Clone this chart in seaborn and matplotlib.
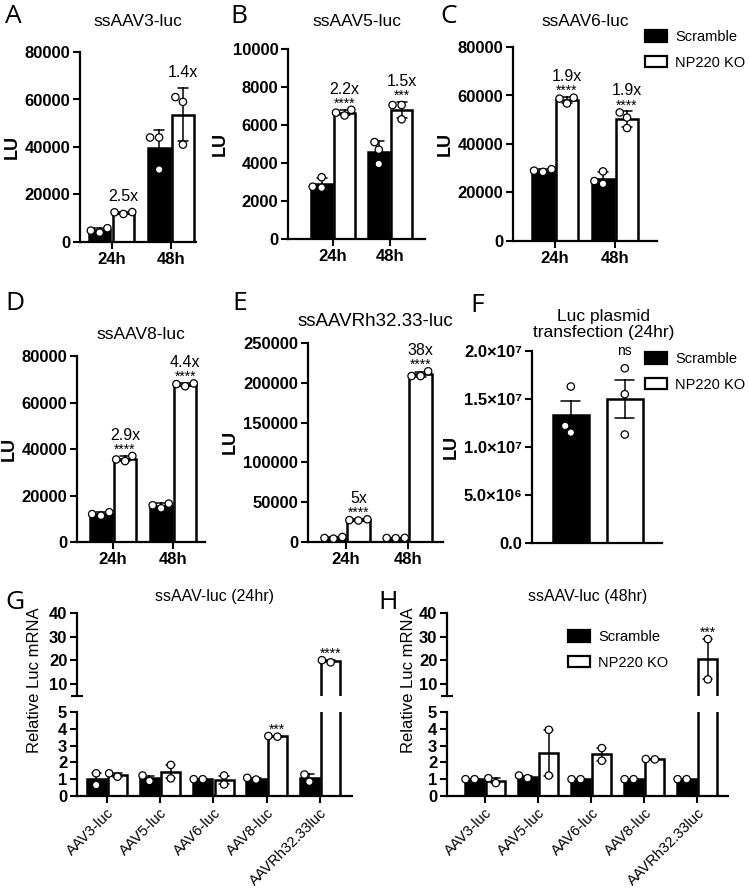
import numpy as np
import pandas as pd
import matplotlib.pyplot as plt
import seaborn as sns
from matplotlib.patches import Patch

sns.set_theme(style='ticks')
plt.rcParams['font.family'] = ['Liberation Sans', 'DejaVu Sans']
plt.rcParams.update({'text.color': 'black', 'axes.edgecolor': 'black', 'axes.labelcolor': 'black',
                     'xtick.color': 'black', 'ytick.color': 'black'})

groups = ['Scramble', 'NP220 KO']
times = ['24h', '48h']
vectors = ['AAV3-luc', 'AAV5-luc', 'AAV6-luc', 'AAV8-luc', 'AAVRh32.33luc']

# luciferase units (LU), three wells per bar, [24h, 48h]
aav3_scr = [[3950, 5800, 4800], [44000, 30500, 44000]]
aav3_ko = [[11800, 12600, 12500], [61000, 41000, 59000]]
aav5_scr = [[2700, 3250, 2750], [5100, 3950, 4700]]
aav5_ko = [[6500, 6800, 6650], [7050, 6300, 7050]]
aav6_scr = [[28500, 29600, 29000], [23600, 28700, 24700]]
aav6_ko = [[56700, 59100, 58700], [53000, 46600, 50900]]
aav8_scr = [[11300, 12800, 12000], [14500, 16500, 15800]]
aav8_ko = [[37000, 34800, 35500], [67000, 68200, 67900]]
rh32_scr = [[4200, 6300, 5000], [4800, 5000, 5200]]
rh32_ko = [[27000, 28500, 27500], [208500, 214500, 208500]]

fold_a, stars_a = ['2.5x', '1.4x'], ['', '']
fold_b, stars_b = ['2.2x', '1.5x'], ['****', '***']
fold_c, stars_c = ['1.9x', '1.9x'], ['****', '****']
fold_d, stars_d = ['2.9x', '4.4x'], ['****', '****']
fold_e, stars_e = ['5x', '38x'], ['****', '****']

# luc plasmid transfection, 24hr
plasmid_scr = [16300000, 11500000, 12200000]
plasmid_ko = [18200000, 15500000, 11300000]

# relative Luc mRNA, two replicates per vector
mrna24_scr = [[1.35, 0.65], [0.89, 1.22], [1.0, 1.0], [0.98, 1.08], [0.85, 1.28]]
mrna24_ko = [[1.15, 1.35], [1.85, 1.05], [1.22, 0.69], [3.53, 3.57], [19.2, 20.1]]
stars_g = ['', '', '', '***', '****']
mrna48_scr = [[1.0, 1.0], [1.06, 1.22], [1.0, 1.0], [1.0, 1.0], [1.0, 1.0]]
mrna48_ko = [[0.77, 1.06], [3.94, 1.22], [2.85, 2.1], [2.18, 2.2], [29.0, 12.0]]
stars_h = ['', '', '', '', '***']

fills = {'Scramble': 'black', 'NP220 KO': 'white'}
dots = {'Scramble': 'white', 'NP220 KO': 'white'}

fig = plt.figure(figsize=(7.5, 8.88), dpi=100)


def box(l, r, t, b):
    return [l / 750, 1 - b / 888, (r - l) / 750, (b - t) / 888]


def frame(cats, scr, ko):
    rows = []
    for cat, s, k in zip(cats, scr, ko):
        rows += [(cat, 'Scramble', v) for v in s]
        rows += [(cat, 'NP220 KO', v) for v in k]
    return pd.DataFrame(rows, columns=['cat', 'group', 'value'])


def draw(ax, df, err, order, x='cat', hue='group', width=0.8, dots_df=None):
    sns.barplot(data=df, x=x, y='value', hue=hue, order=order, hue_order=groups, palette=fills,
                errorbar=err, capsize=0.35, gap=0.1, width=width, edgecolor='black', linewidth=1.8,
                saturation=1, err_kws={'color': 'black', 'linewidth': 1.1}, legend=False, ax=ax)
    sns.swarmplot(data=df if dots_df is None else dots_df, x=x, y='value', hue=hue, order=order,
                  hue_order=groups, palette=dots, dodge=(x != hue), size=5.3, edgecolor='black',
                  linewidth=0.9, legend=False, zorder=3, ax=ax)
    ax.set_xlabel('')
    ax.set_ylabel('')


def ticks(ax):
    ax.tick_params(length=5, width=1.5, labelsize=12, pad=2)
    for t in ax.get_yticklabels() + ax.get_xticklabels():
        t.set_fontweight('bold')


def style(ax, top, step, xlim):
    ax.set_ylim(0, top)
    ax.set_yticks(np.arange(0, top + step / 2, step))
    ax.set_xlim(*xlim)
    sns.despine(ax=ax)
    for s in ['left', 'bottom']:
        ax.spines[s].set_linewidth(1.6)


def top_of(vals, err):
    vals = np.asarray(vals, dtype=float)
    sd = vals.std(ddof=1)
    if err == 'se':
        sd = sd / np.sqrt(len(vals))
    return max(vals.max(), vals.mean() + sd)


def mark(ax, x, top, stars, fold=''):
    if stars:
        ax.annotate(stars, (x, top), xytext=(0, 1.5), textcoords='offset points', ha='center',
                    va='baseline', fontsize=10, annotation_clip=False)
    if fold:
        lift = 11.5 if stars else 8
        ax.annotate(fold, (x, top), xytext=(0, lift), textcoords='offset points', ha='center',
                    va='baseline', fontsize=11.5, annotation_clip=False)


time_panels = [
    ('A', 'ssAAV3-luc', aav3_scr, aav3_ko, fold_a, stars_a, 80000, 20000, (80, 196, 52, 242), (-0.53, 1.42), 12.5, 18.5, (5, 4)),
    ('B', 'ssAAV5-luc', aav5_scr, aav5_ko, fold_b, stars_b, 10000, 2000, (288, 425, 49, 239), (-0.79, 1.61), 12.5, 16.5, (230, 4)),
    ('C', 'ssAAV6-luc', aav6_scr, aav6_ko, fold_c, stars_c, 80000, 20000, (513, 657, 47, 241), (-0.7, 1.7), 12.3, 15, (440, 4)),
    ('D', 'ssAAV8-luc', aav8_scr, aav8_ko, fold_d, stars_d, 80000, 20000, (77, 205, 356, 542), (-0.6, 1.53), 12.5, 12.5, (5, 291)),
    ('E', 'ssAAVRh32.33-luc', rh32_scr, rh32_ko, fold_e, stars_e, 250000, 50000, (308, 443, 343, 542), (-0.61, 1.56), 13.5, 12, (232, 291)),
]

for letter, title, scr, ko, fold, stars, top, step, pos, xlim, tsize, pad, lpos in time_panels:
    ax = fig.add_axes(box(*pos))
    draw(ax, frame(times, scr, ko), 'sd', times)
    style(ax, top, step, xlim)
    ticks(ax)
    ax.set_ylabel('LU', fontsize=13, fontweight='bold', labelpad=3)
    ax.set_title(title, fontsize=tsize, pad=pad)
    for i, vals in enumerate(ko):
        mark(ax, i + 0.2, top_of(vals, 'sd'), stars[i], fold[i])
    fig.text(lpos[0] / 750, 1 - lpos[1] / 888, letter, fontfamily='Open Sans', fontsize=19,
             ha='left', va='top')

# panel F
ax = fig.add_axes(box(532, 662, 351, 543))
df_f = pd.DataFrame({'group': ['Scramble'] * len(plasmid_scr) + ['NP220 KO'] * len(plasmid_ko),
                     'value': plasmid_scr + plasmid_ko})
draw(ax, df_f, 'se', groups, x='group', hue='group', width=0.75)
style(ax, 2e7, 5e6, (-0.72, 1.69))
ax.set_yticks([0, 5e6, 1e7, 1.5e7, 2e7], ['0.0', '5.0×10⁶', '1.0×10⁷', '1.5×10⁷', '2.0×10⁷'])
ax.tick_params(axis='x', bottom=False, labelbottom=False)
ticks(ax)
ax.set_ylabel('LU', fontsize=13, fontweight='bold', labelpad=3)
ax.set_title('Luc plasmid\ntransfection (24hr)', fontsize=12.5, pad=10, x=0.55, linespacing=1.1)
mark(ax, 1, max(plasmid_ko) + 1.2e6, 'ns')
fig.text(470 / 750, 1 - 293 / 888, 'F', fontfamily='Open Sans', fontsize=19, ha='left', va='top')

# panels G and H: broken y axis
mrna_panels = [
    ('G', 'ssAAV-luc (24hr)', mrna24_scr, mrna24_ko, stars_g, (77, 352), (-0.56, 4.6), 35, 5),
    ('H', 'ssAAV-luc (48hr)', mrna48_scr, mrna48_ko, stars_h, (447, 728), (-0.72, 4.58), 408, 378),
]
for letter, title, scr, ko, stars, (l, r), xlim, ylab_x, let_x in mrna_panels:
    df = frame(vectors, scr, ko)
    up = fig.add_axes(box(l, r, 613, 696))
    lo = fig.add_axes(box(l, r, 712, 796))
    draw(up, df, 'se', vectors, dots_df=df[df['value'] > 5])
    draw(lo, df, 'se', vectors)
    for ax in (up, lo):
        ax.set_xlim(*xlim)
        sns.despine(ax=ax)
        ax.spines['left'].set_linewidth(1.6)
        ax.spines['bottom'].set_linewidth(1.6)
        ax.set_yticks([5], minor=True)
        ax.tick_params(axis='y', which='minor', direction='inout', length=9, width=1.5)
    up.set_ylim(5, 40)
    up.set_yticks([10, 20, 30, 40])
    up.spines['bottom'].set_visible(False)
    up.tick_params(axis='x', bottom=False, labelbottom=False)
    lo.set_ylim(0, 5)
    lo.set_yticks([0, 1, 2, 3, 4, 5])
    ticks(up)
    ticks(lo)
    lo.set_xticks(range(len(vectors)), vectors, rotation=45, ha='right', rotation_mode='anchor',
                  fontsize=10.5, fontweight='normal')
    up.set_title(title, fontsize=11.5, pad=9)
    for i, vals in enumerate(ko):
        t = top_of(vals, 'se')
        mark(up if t > 5 else lo, i + 0.2, t, stars[i])
    fig.text(ylab_x / 750, 1 - 680 / 888, 'Relative Luc mRNA', rotation=90, fontsize=12,
             ha='center', va='center')
    fig.text(let_x / 750, 1 - 590 / 888, letter, fontfamily='Open Sans', fontsize=19,
             ha='left', va='top')

handles = [Patch(facecolor=fills[g], edgecolor='black', linewidth=1.6, label=g) for g in groups]
for lx, ly in [(645, 30), (645, 352), (568, 630)]:
    fig.legend(handles=handles, loc='upper left', bbox_to_anchor=(lx / 750, 1 - ly / 888),
               frameon=False, fontsize=10.5, handlelength=1.5, handleheight=0.85, handletextpad=0.55,
               labelspacing=0.8, borderpad=0, borderaxespad=0)

fig.savefig('out.png', dpi=100)
